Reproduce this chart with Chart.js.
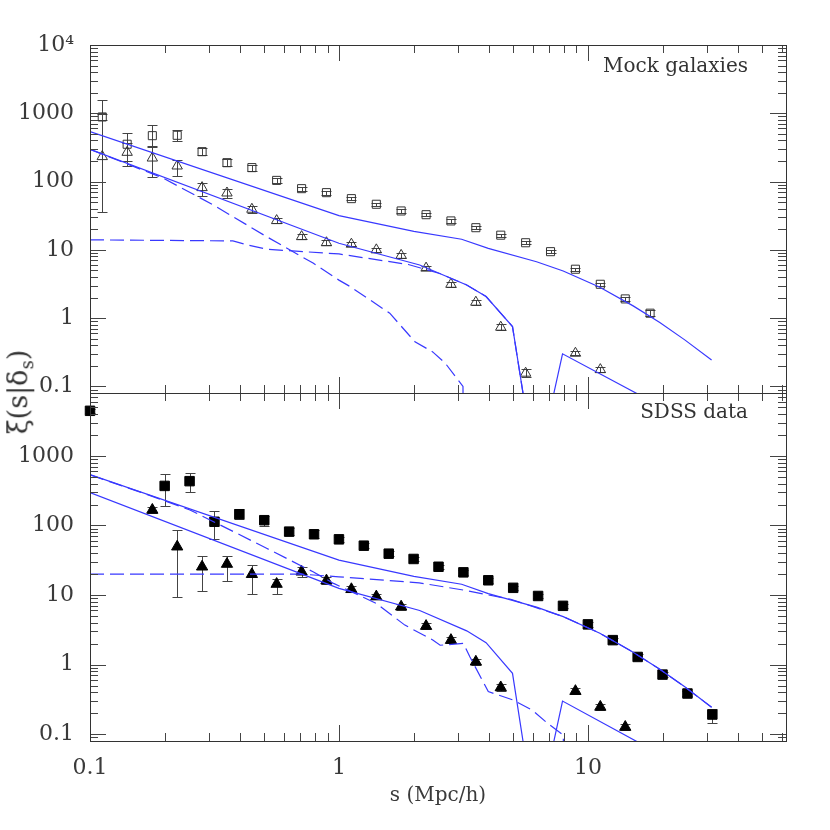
<!DOCTYPE html>
<html>
<head>
<meta charset="utf-8">
<title>xi(s|delta_s)</title>
<script src="https://cdn.jsdelivr.net/npm/chart.js@4.4.0/dist/chart.umd.min.js"></script>
<style>
    body { margin: 0; background: #fff; }
    #wrap { position: relative; width: 830px; height: 830px; overflow: hidden; }
    #wrap canvas { position: absolute; left: 0; }
    .note { position: absolute; font-family: 'DejaVu Serif', serif; font-size: 20px; line-height: 1; color: #333; white-space: nowrap; }
    #ylab { position: absolute; left: 20px; top: 392px; transform: translate(-50%, -50%) rotate(-90deg);
            font-family: 'DejaVu Serif', serif; font-size: 27px; color: #333; white-space: nowrap; }
    #ylab sub { font-size: 18px; }
</style>
</head>
<body>
<div id="wrap">
    <canvas id="chartTop" width="830" height="400" style="top:0"></canvas>
    <canvas id="chartBot" width="830" height="450" style="top:380px"></canvas>
    <div class="note" style="right:82px; top:55px">Mock galaxies</div>
    <div class="note" style="right:82px; top:401px">SDSS data</div>
    <div id="ylab">ξ(s|δ<sub>s</sub>)</div>
</div>
<script>
// ========== DATA ==========
// bins used by the mock points and the SDSS triangles
const sBins = [0.112, 0.141, 0.178, 0.224, 0.282, 0.355, 0.447, 0.562, 0.708, 0.891, 1.122, 1.413,
               1.778, 2.239, 2.818, 3.548, 4.467, 5.623, 7.079, 8.913, 11.22, 14.13, 17.78];

// top panel: mock galaxies
const mockSq   = [883, 352, 470, 476, 274, 189, 160, 104, 78.7, 68.8, 56.2, 46.5, 37.1, 32.7, 26.5, 21.1, 16.4, 12.7, 9.4, 5.2, 3.13, 1.91, 1.18];
const mockSqLo = [800, 202, 318, 393, 243, 169, 144, 96, 73.5, 64.5, 52.8, 43.8, 35.0, 30.8, 25.0, 19.9, 15.5, 12.0, 8.9, 4.9, 2.95, 1.79, 1.07];
const mockSqHi = [980, 509, 667, 569, 313, 212, 173, 112, 84, 73.2, 59.8, 49.3, 39.3, 34.6, 28.0, 22.3, 17.3, 13.4, 9.9, 5.5, 3.31, 2.03, 1.30];

const mockTri   = [232, 268, 221, 169, 81.5, 68, 39.3, 26.8, 15.6, 12.7, 12.1, 10.0, 8.3, 5.4, 3.13, 1.71, 0.736, 0.156, null, 0.306, 0.176, null, null];
const mockTriLo = [35.6, 169, 116, 121, 61.5, 57.5, 35.0, 24.5, 14.3, 11.8, 11.2, 9.3, 7.7, 5.0, 2.9, 1.58, 0.67, 0.135, null, 0.285, 0.162, null, null];
const mockTriHi = [1583, 364, 330, 209, 94.5, 78.7, 44.0, 29.3, 17.0, 13.7, 13.1, 10.8, 8.9, 5.8, 3.38, 1.85, 0.81, 0.18, null, 0.33, 0.19, null, null];

// bottom panel: SDSS data
const sdssTri   = [null, null, 167, 49.5, 25.5, 27.9, 19.9, 14.4, 21.6, 16.1, 12.1, 9.5, 6.8, 3.58, 2.25, 1.10, 0.47, null, null, 0.416, 0.247, 0.127, null];
const sdssTriLo = [null, null, 152, 9.5, 11.4, 15.9, 10.4, 10.4, 18.2, 14.5, 11.0, 8.7, 6.2, 3.25, 2.05, 1.0, 0.42, null, null, 0.38, 0.225, 0.115, null];
const sdssTriHi = [null, null, 183, 86, 36.7, 36.7, 27.3, 17.0, 25.1, 18.0, 13.3, 10.4, 7.5, 3.95, 2.47, 1.21, 0.52, null, null, 0.455, 0.27, 0.14, null];

const sSdssSq  = [0.1, 0.1995, 0.2512, 0.3162, 0.3981, 0.5012, 0.631, 0.7943, 1.0, 1.259, 1.585, 1.995,
                  2.512, 3.162, 3.981, 5.012, 6.31, 7.943, 10.0, 12.59, 15.85, 19.95, 25.12, 31.62];
const sdssSq   = [4436, 370, 433, 113, 145, 119, 81.5, 74.7, 63.2, 51.2, 39.3, 33.0, 25.5, 21.2, 16.3, 12.7, 9.7, 7.0, 3.79, 2.25, 1.29, 0.72, 0.385, 0.192];
const sdssSqLo = [4150, 191, 306, 64, 124, 98.4, 73, 66, 58.5, 47.5, 36.5, 30.6, 23.7, 19.7, 15.1, 11.8, 9.0, 6.5, 3.5, 2.08, 1.19, 0.665, 0.35, 0.147];
const sdssSqHi = [4750, 551, 564, 163, 171, 138, 93, 87, 68.3, 55.2, 42.3, 35.6, 27.4, 22.8, 17.6, 13.7, 10.5, 7.55, 4.1, 2.43, 1.4, 0.78, 0.425, 0.234];

// model curves (solid lines are the same in both panels)
const modelAs = [0.1, 1.0, 2.0, 3.11, 3.98, 6.22, 7.96, 11.17, 15.2, 19.45, 24.5, 31.4];
const modelAv = [538, 31.7, 18.6, 14.3, 10.5, 6.7, 4.9, 2.83, 1.51, 0.86, 0.48, 0.244];
const modelBs = [0.1, 1.0, 2.11, 3.26, 3.9, 4.98, 5.6, 7.1, 7.91, 19.45];
const modelBv = [297, 12.5, 6.0, 3.06, 2.07, 0.75, 0.05, 0.05, 0.30, 0.052];

const mockD1s = [0.1, 0.197, 0.313, 0.512, 0.787, 1.0, 1.11, 1.6, 2.02, 2.38, 2.67, 3.01, 3.15, 3.16];
const mockD1v = [297, 112, 45.4, 15.6, 6.4, 3.6, 2.89, 1.18, 0.45, 0.32, 0.22, 0.124, 0.1, 0.01];
const mockD2s = [0.1, 0.375, 0.43, 0.512, 1.0, 1.9, 2.54, 3.26, 3.9, 4.98, 5.6];
const mockD2v = [14.0, 13.5, 11.8, 10.2, 8.7, 6.1, 4.5, 3.06, 2.07, 0.75, 0.05];

const sdssD1s = [0.1, 0.169, 0.252, 0.377, 0.512, 0.787, 0.952, 1.41, 1.84, 2.39, 2.55, 3.16, 3.36, 3.98, 5.01, 6.0, 6.9, 7.97, 8.0];
const sdssD1v = [533, 280, 167, 81.5, 47, 21.6, 14.7, 7.6, 3.7, 2.25, 1.9, 2.02, 1.29, 0.41, 0.31, 0.22, 0.143, 0.097, 0.01];
const sdssD2s = [0.1, 0.7, 1.0, 1.55, 2.1, 3.16, 4.9, 7.96, 11.17, 15.2, 19.45, 24.5, 31.4];
const sdssD2v = [20.0, 20.0, 18.3, 16.3, 15.0, 11.8, 8.7, 4.9, 2.83, 1.51, 0.86, 0.48, 0.244];

// axis ticks
const xTicks = [0.1, 1, 10];
const xLabels = ['0.1', '1', '10'];
const yTopTicks = [0.1, 1, 10, 100, 1000, 10000];
const yTopLabels = ['0.1', '1', '10', '100', '1000', '10⁴'];
const yBotTicks = [0.1, 1, 10, 100, 1000];
const yBotLabels = ['0.1', '1', '10', '100', '1000'];

// ========== HELPERS ==========
const BLUE = '#3838ff';
const INK = '#3a3a3a';
Chart.defaults.font.family = "'DejaVu Serif', serif";

function points(xs, ys, lo, hi) {
    const out = [];
    xs.forEach((x, i) => {
        if (ys[i] == null) return;
        out.push({ x: x, y: ys[i], lo: lo ? lo[i] : null, hi: hi ? hi[i] : null });
    });
    return out;
}

function markers(xs, ys, lo, hi, style, radius, filled) {
    return {
        data: points(xs, ys, lo, hi),
        errorBars: true,
        showLine: false,
        clip: false,
        pointStyle: style,
        pointRadius: radius,
        pointHoverRadius: radius,
        pointBorderWidth: 1,
        pointBorderColor: filled ? '#000' : '#333',
        pointBackgroundColor: filled ? '#000' : 'rgba(0,0,0,0)'
    };
}

function curve(xs, ys, dashed) {
    return {
        data: points(xs, ys),
        showLine: true,
        borderColor: BLUE,
        borderWidth: 1.2,
        borderDash: dashed ? [14, 6] : [],
        pointRadius: 0,
        pointHoverRadius: 0
    };
}

// decade and minor tick values for the frame
function logTicks(min, max) {
    const out = [];
    for (let e = -2; e <= 4; e++) {
        for (let m = 1; m <= 9; m++) {
            const v = +(m * Math.pow(10, e)).toPrecision(3);
            if (v >= min * 0.999 && v <= max * 1.001) out.push({ v: v, major: m === 1 });
        }
    }
    return out;
}

// inward ticks on all four sides + frame
function framePlugin(xRange, yRange) {
    const xt = logTicks(xRange[0], xRange[1]);
    const yt = logTicks(yRange[0], yRange[1]);
    return {
        id: 'frame',
        afterDraw(chart) {
            const { ctx, chartArea: a, scales: { x, y } } = chart;
            ctx.save();
            ctx.strokeStyle = '#444';
            ctx.lineWidth = 1;
            const seg = (x1, y1, x2, y2) => { ctx.beginPath(); ctx.moveTo(x1, y1); ctx.lineTo(x2, y2); ctx.stroke(); };
            xt.forEach(t => {
                const px = Math.round(x.getPixelForValue(t.v)) + 0.5;
                const len = t.major ? 16 : 8;
                seg(px, a.top, px, a.top + len);
                seg(px, a.bottom, px, a.bottom - len);
            });
            yt.forEach(t => {
                const py = Math.round(y.getPixelForValue(t.v)) + 0.5;
                const len = t.major ? 16 : 8;
                seg(a.left, py, a.left + len, py);
                seg(a.right, py, a.right - len, py);
            });
            ctx.strokeStyle = '#333';
            ctx.strokeRect(Math.round(a.left) + 0.5, Math.round(a.top) + 0.5,
                           Math.round(a.right - a.left), Math.round(a.bottom - a.top));
            ctx.restore();
        }
    };
}

const errorBars = {
    id: 'errorBars',
    beforeDatasetsDraw(chart) {
        const { ctx, scales: { x, y } } = chart;
        ctx.save();
        ctx.strokeStyle = '#444';
        ctx.lineWidth = 1;
        chart.data.datasets.forEach(ds => {
            if (!ds.errorBars) return;
            ds.data.forEach(p => {
                if (p.lo == null || p.hi == null) return;
                const px = Math.round(x.getPixelForValue(p.x)) + 0.5;
                const y1 = Math.round(y.getPixelForValue(p.lo)) + 0.5;
                const y2 = Math.round(y.getPixelForValue(p.hi)) + 0.5;
                ctx.beginPath();
                ctx.moveTo(px, y1); ctx.lineTo(px, y2);
                ctx.moveTo(px - 5, y1); ctx.lineTo(px + 5, y1);
                ctx.moveTo(px - 5, y2); ctx.lineTo(px + 5, y2);
                ctx.stroke();
            });
        });
        ctx.restore();
    }
};

// keep label overflow from pushing the plot area around
function noOverflow(s) {
    s.paddingTop = 0; s.paddingBottom = 0; s.paddingLeft = 0; s.paddingRight = 0;
}

function yAxis(min, max, ticks, labels) {
    return {
        type: 'logarithmic', min: min, max: max, bounds: 'data',
        grid: { display: false, drawTicks: false },
        border: { display: false },
        afterBuildTicks: s => { s.ticks = ticks.map(v => ({ value: v })); },
        afterFit: s => { s.width = 90; noOverflow(s); },
        ticks: {
            autoSkip: false, padding: 16, color: INK,
            font: { size: 22 },
            callback: v => { const i = ticks.indexOf(v); return i < 0 ? '' : labels[i]; }
        }
    };
}

function baseOptions(padding) {
    return {
        responsive: false,
        animation: false,
        devicePixelRatio: 1,
        events: [],
        layout: { padding: padding },
        plugins: { legend: { display: false }, tooltip: { enabled: false } }
    };
}

// ========== TOP PANEL ==========
const topOpts = baseOptions({ top: 45, right: 44, bottom: 7, left: 0 });
topOpts.scales = {
    x: {
        type: 'logarithmic', min: 0.1, max: 62.5, bounds: 'data', display: false,
        afterFit: s => { s.height = 0; noOverflow(s); }
    },
    y: yAxis(0.08, 10000, yTopTicks, yTopLabels)
};
const chartTop = new Chart(document.getElementById('chartTop'), {
    type: 'scatter',
    data: {
        datasets: [
            curve(modelAs, modelAv, false),
            curve(modelBs, modelBv, false),
            curve(mockD1s, mockD1v, true),
            curve(mockD2s, mockD2v, true),
            markers(sBins, mockSq, mockSqLo, mockSqHi, 'rect', 5.7, false),
            markers(sBins, mockTri, mockTriLo, mockTriHi, 'triangle', 6, false)
        ]
    },
    options: topOpts,
    plugins: [errorBars, framePlugin([0.1, 62.5], [0.08, 10000])]
});

// ========== BOTTOM PANEL ==========
const botOpts = baseOptions({ top: 13, right: 44, bottom: 0, left: 0 });
botOpts.scales = {
    x: {
        type: 'logarithmic', min: 0.1, max: 62.5, bounds: 'data', position: 'bottom',
        grid: { display: false, drawTicks: false },
        border: { display: false },
        afterBuildTicks: s => { s.ticks = xTicks.map(v => ({ value: v })); },
        afterFit: s => { s.height = 89; noOverflow(s); },
        ticks: {
            autoSkip: false, maxRotation: 0, padding: 14, color: INK,
            font: { size: 22 },
            callback: v => { const i = xTicks.indexOf(v); return i < 0 ? '' : xLabels[i]; }
        },
        title: { display: true, text: 's (Mpc/h)', color: INK, font: { size: 20 }, padding: { top: 0, bottom: 22 } }
    },
    y: yAxis(0.08, 8000, yBotTicks, yBotLabels)
};
const chartBot = new Chart(document.getElementById('chartBot'), {
    type: 'scatter',
    data: {
        datasets: [
            curve(modelAs, modelAv, false),
            curve(modelBs, modelBv, false),
            curve(sdssD1s, sdssD1v, true),
            curve(sdssD2s, sdssD2v, true),
            markers(sSdssSq, sdssSq, sdssSqLo, sdssSqHi, 'rect', 6.7, true),
            markers(sBins, sdssTri, sdssTriLo, sdssTriHi, 'triangle', 6.5, true)
        ]
    },
    options: botOpts,
    plugins: [errorBars, framePlugin([0.1, 62.5], [0.08, 8000])]
});
</script>
</body>
</html>
